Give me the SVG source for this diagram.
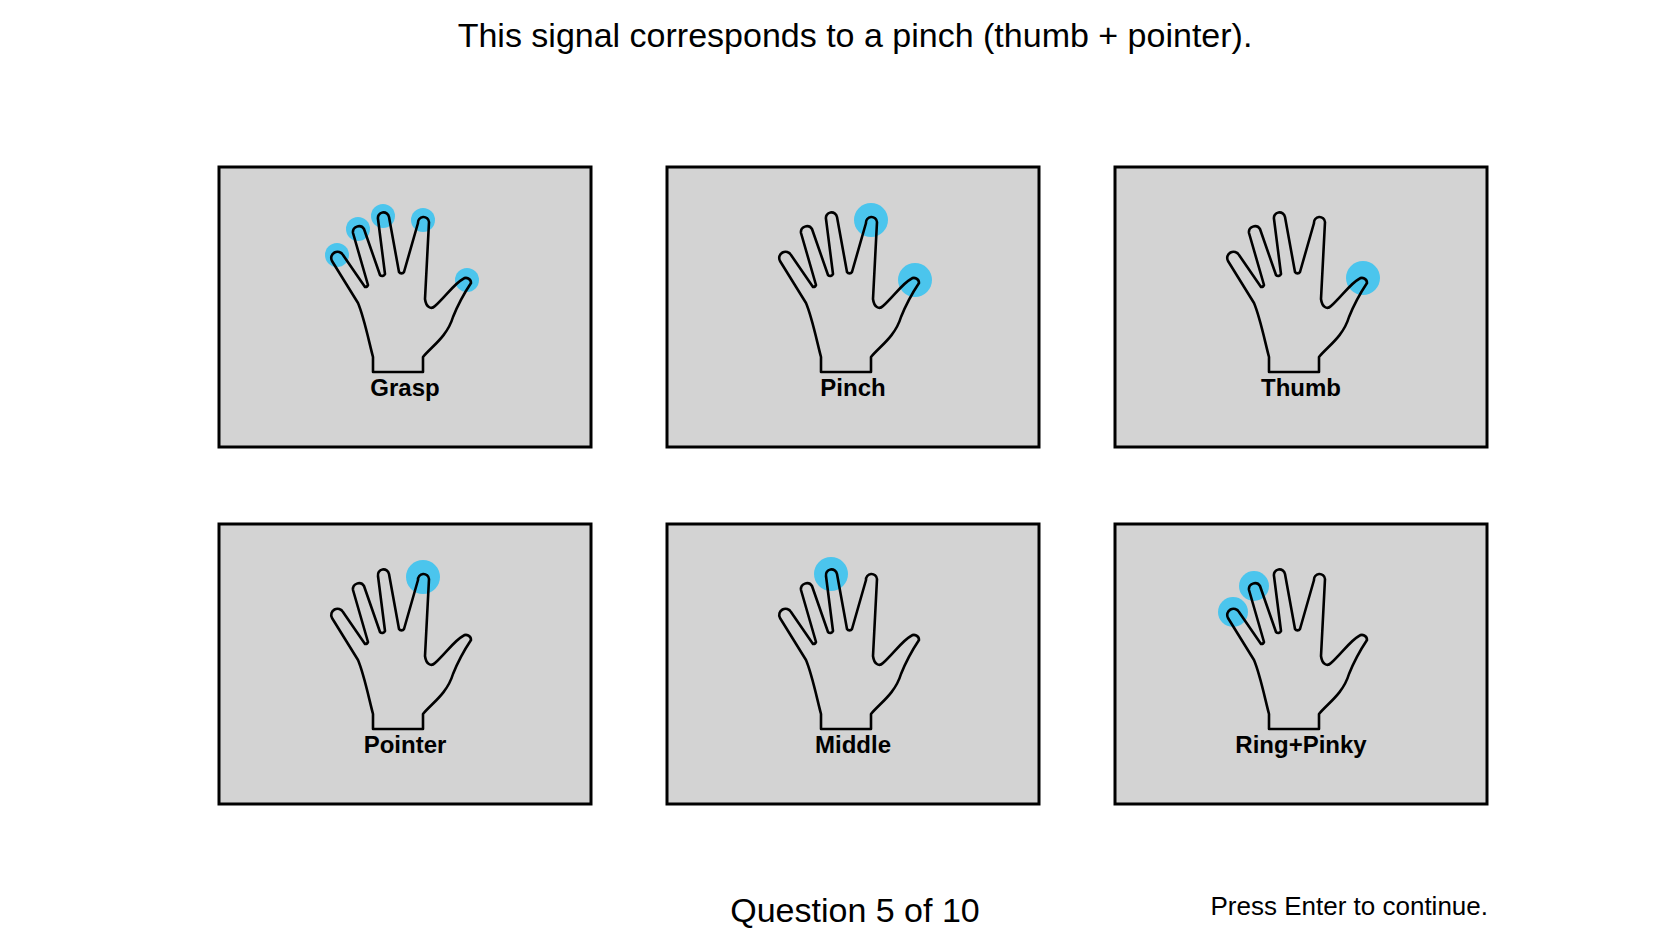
<svg xmlns="http://www.w3.org/2000/svg" xmlns:xlink="http://www.w3.org/1999/xlink" width="1676" height="946" viewBox="0 0 1676 946">
<style>
.box{fill:#d3d3d3;stroke:#000;stroke-width:3}
.hand{fill:none;stroke:#000;stroke-width:2.6;stroke-linejoin:round;stroke-linecap:round}
.dot{fill:#3cc3f0;opacity:0.9}
.lbl{font-family:"Liberation Sans",Arial,sans-serif;font-weight:bold;font-size:24px;text-anchor:middle;fill:#000}
.txt{font-family:"Liberation Sans",Arial,sans-serif;fill:#000}
</style>
<defs>
<path id="hand" class="hand" d="M154,205 L154,190 C150,175 145,150 139,136 L113,94 A6,6 0 0 1 124,88 L146,120 A3,3 0 0 0 149,118 L134,66 A6,6 0 0 1 145,62 L161,108 A3,3 0 0 0 166,107 L159,52 A5,5 0 0 1 170,50 L180,105 A3,3 0 0 0 185,105 L199,56 A5.5,5.5 0 0 1 210,55 L206,132 C207,140 212,143 216,139 C226,130 236,116 244,112 A5,5 0 0 1 252,116 C244,128 238,140 234,150 C228,170 212,180 204,190 L204,205 Z"/>
</defs>
<text class="txt" x="855" y="47" font-size="34" text-anchor="middle">This signal corresponds to a pinch (thumb + pointer).</text>
<g id="grasp" transform="translate(219,167)">
<rect class="box" x="0" y="0" width="372" height="280"/>
<circle class="dot" cx="118" cy="88" r="12"/><circle class="dot" cx="139" cy="62" r="12"/><circle class="dot" cx="164" cy="49" r="12"/><circle class="dot" cx="204" cy="53" r="12"/><circle class="dot" cx="248" cy="113" r="12"/>
<use xlink:href="#hand"/>
<text class="lbl" x="186" y="229">Grasp</text>
</g>
<g id="pinch" transform="translate(667,167)">
<rect class="box" x="0" y="0" width="372" height="280"/>
<circle class="dot" cx="204" cy="53" r="17"/><circle class="dot" cx="248" cy="113" r="17"/>
<use xlink:href="#hand"/>
<text class="lbl" x="186" y="229">Pinch</text>
</g>
<g id="thumb" transform="translate(1115,167)">
<rect class="box" x="0" y="0" width="372" height="280"/>
<circle class="dot" cx="248" cy="111" r="17"/>
<use xlink:href="#hand"/>
<text class="lbl" x="186" y="229">Thumb</text>
</g>
<g id="pointer" transform="translate(219,524)">
<rect class="box" x="0" y="0" width="372" height="280"/>
<circle class="dot" cx="204" cy="53" r="17"/>
<use xlink:href="#hand"/>
<text class="lbl" x="186" y="229">Pointer</text>
</g>
<g id="middle" transform="translate(667,524)">
<rect class="box" x="0" y="0" width="372" height="280"/>
<circle class="dot" cx="164" cy="50" r="17"/>
<use xlink:href="#hand"/>
<text class="lbl" x="186" y="229">Middle</text>
</g>
<g id="ringpinky" transform="translate(1115,524)">
<rect class="box" x="0" y="0" width="372" height="280"/>
<circle class="dot" cx="118" cy="88" r="15"/><circle class="dot" cx="139" cy="62" r="15"/>
<use xlink:href="#hand"/>
<text class="lbl" x="186" y="229">Ring+Pinky</text>
</g>
<g id="connectors"/>
<text class="txt" x="855" y="922" font-size="34" text-anchor="middle">Question 5 of 10</text>
<text class="txt" x="1488" y="915" font-size="26" text-anchor="end">Press Enter to continue.</text>
</svg>
